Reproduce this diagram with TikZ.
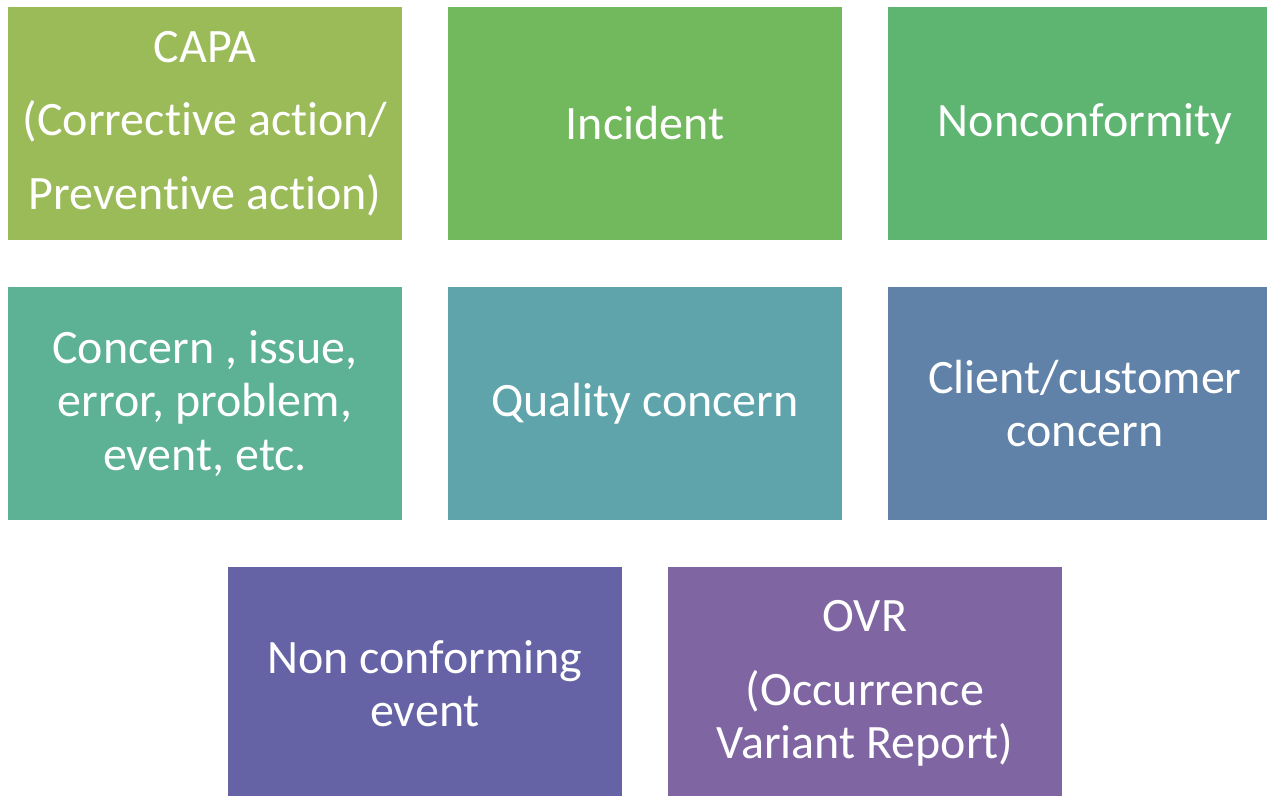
\documentclass[tikz,border=0pt]{standalone}
\usepackage{fontspec}
\setmainfont[Ligatures=NoCommon]{Carlito}
\usepackage{xcolor}
\usepackage{tikz}

\definecolor{capagreen}{HTML}{9BBB59}
\definecolor{incgreen}{HTML}{72B85C}
\definecolor{ncgreen}{HTML}{5EB471}
\definecolor{concteal}{HTML}{5DB195}
\definecolor{qualteal}{HTML}{5FA3AB}
\definecolor{clientblue}{HTML}{6182A8}
\definecolor{ncevblue}{HTML}{6563A6}
\definecolor{ovrpurple}{HTML}{7F65A2}

\begin{document}
\begin{tikzpicture}[x=0.02cm,y=-0.02cm,
    block/.style={shape=rectangle,inner sep=0pt,minimum width=7.88cm,minimum height=4.68cm,
                  text=white,align=center,font=\fontsize{27.3}{30.2}\selectfont}]
                    \clip (0,0) rectangle (1267,795);
                    \fill[white] (0,0) rectangle (1267,795);

                    % top row
                    \node[block,fill=capagreen] (CAPA) at (205,123.5) {CAPA\\[11.5pt](Corrective action/\\[11.5pt]Preventive action)};
                    \node[block,fill=incgreen] (INC) at (645,123.5) {Incident};
                    \node[block,fill=ncgreen] (NC) at (1085,123.5) {Nonconformity};

                    % middle row
                    \node[block,fill=concteal] (CONC) at (205,403.5) {Concern , issue,\\error, problem,\\event, etc.};
                    \node[block,fill=qualteal] (QUAL) at (645,403.5) {Quality concern};
                    \node[block,fill=clientblue] (CLIENT) at (1085,403.5) {Client/customer\\concern};

                    % bottom row
                    \node[block,fill=ncevblue] (NCEV) at (425,683.5) {Non conforming\\event};
                    \node[block,fill=ovrpurple] (OVR) at (865,683.5) {OVR\\[12pt](Occurrence\\Variant Report)};
                \end{tikzpicture}
\end{document}
